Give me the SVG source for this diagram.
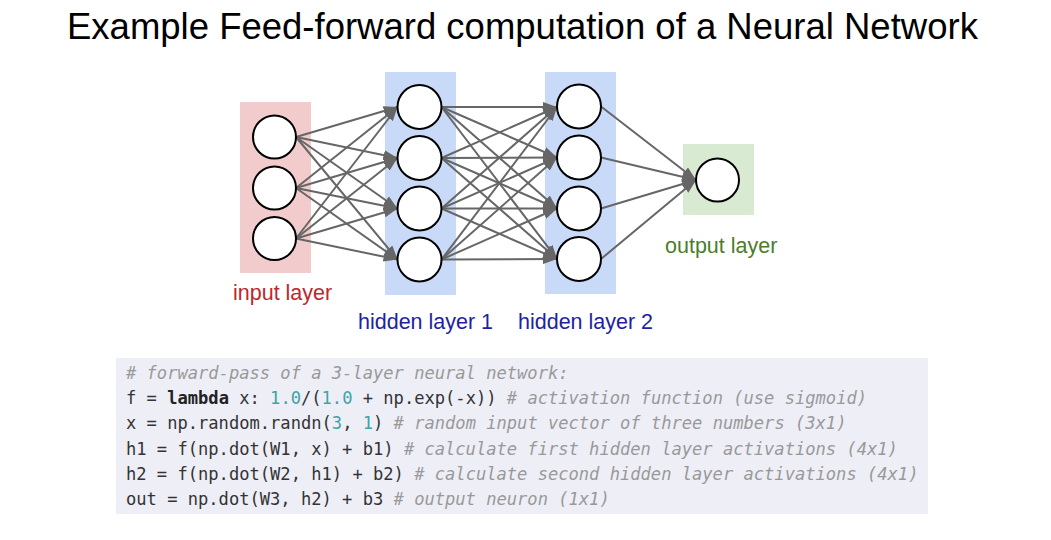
<svg xmlns="http://www.w3.org/2000/svg" width="1051" height="540" viewBox="0 0 1051 540">
<style>
.title{font-family:"Liberation Sans",Arial,sans-serif;font-size:36.5px;fill:#000}
.lbl{font-family:"Liberation Sans",Arial,sans-serif;font-size:21.5px}
.neuron{fill:#fff;stroke:#000;stroke-width:2}
.conn line{stroke:#666;stroke-width:2;marker-end:url(#arr)}
.code{font-family:"DejaVu Sans Mono","Liberation Mono",monospace;font-size:17.1px;fill:#333}
.cm{fill:#999;font-style:italic}
.num{fill:#3aa5a5}
.kw{font-weight:bold;fill:#222}
</style>
<defs>
<marker id="arr" markerUnits="userSpaceOnUse" markerWidth="14" markerHeight="10" refX="14" refY="5" orient="auto">
<path d="M0,0 L14,5 L0,10 z" fill="#666"/>
</marker>
</defs>
<rect width="1051" height="540" fill="#fff"/>
<text class="title" x="67" y="39">Example Feed-forward computation of a Neural Network</text>

<g id="layer-input"><rect x="240" y="102" width="71" height="171" fill="#f2cccc"/></g>
<g id="layer-hidden1"><rect x="385" y="72" width="71" height="223" fill="#c9daf8"/></g>
<g id="layer-hidden2"><rect x="545" y="72" width="71" height="222" fill="#c9daf8"/></g>
<g id="layer-output"><rect x="683" y="144" width="71" height="71" fill="#d9ead3"/></g>

<g id="connectors" class="conn">
<line x1="296" y1="137" x2="397.5" y2="107"/>
<line x1="296" y1="137" x2="397.5" y2="158"/>
<line x1="296" y1="137" x2="397.5" y2="208.5"/>
<line x1="296" y1="137" x2="397.5" y2="259.5"/>
<line x1="296" y1="188" x2="397.5" y2="107"/>
<line x1="296" y1="188" x2="397.5" y2="158"/>
<line x1="296" y1="188" x2="397.5" y2="208.5"/>
<line x1="296" y1="188" x2="397.5" y2="259.5"/>
<line x1="296" y1="238.5" x2="397.5" y2="107"/>
<line x1="296" y1="238.5" x2="397.5" y2="158"/>
<line x1="296" y1="238.5" x2="397.5" y2="208.5"/>
<line x1="296" y1="238.5" x2="397.5" y2="259.5"/>

<line x1="441.5" y1="107" x2="557" y2="107"/>
<line x1="441.5" y1="107" x2="557" y2="157.5"/>
<line x1="441.5" y1="107" x2="557" y2="208.5"/>
<line x1="441.5" y1="107" x2="557" y2="259"/>
<line x1="441.5" y1="158" x2="557" y2="107"/>
<line x1="441.5" y1="158" x2="557" y2="157.5"/>
<line x1="441.5" y1="158" x2="557" y2="208.5"/>
<line x1="441.5" y1="158" x2="557" y2="259"/>
<line x1="441.5" y1="208.5" x2="557" y2="107"/>
<line x1="441.5" y1="208.5" x2="557" y2="157.5"/>
<line x1="441.5" y1="208.5" x2="557" y2="208.5"/>
<line x1="441.5" y1="208.5" x2="557" y2="259"/>
<line x1="441.5" y1="259.5" x2="557" y2="107"/>
<line x1="441.5" y1="259.5" x2="557" y2="157.5"/>
<line x1="441.5" y1="259.5" x2="557" y2="208.5"/>
<line x1="441.5" y1="259.5" x2="557" y2="259"/>

<line x1="601" y1="106.5" x2="696" y2="180"/>
<line x1="601" y1="157.5" x2="696" y2="180"/>
<line x1="601" y1="208.5" x2="696" y2="180"/>
<line x1="601" y1="259" x2="696" y2="180"/>
</g>

<g id="input-neurons">
<circle class="neuron" cx="274.5" cy="137" r="21.5"/>
<circle class="neuron" cx="274.5" cy="188" r="21.5"/>
<circle class="neuron" cx="274.5" cy="238.5" r="21.5"/>
</g>
<g id="hidden1-neurons">
<circle class="neuron" cx="419.5" cy="107" r="22"/>
<circle class="neuron" cx="419.5" cy="158" r="22"/>
<circle class="neuron" cx="419.5" cy="208.5" r="22"/>
<circle class="neuron" cx="419.5" cy="259.5" r="22"/>
</g>
<g id="hidden2-neurons">
<circle class="neuron" cx="579" cy="106.5" r="22"/>
<circle class="neuron" cx="579" cy="157.5" r="22"/>
<circle class="neuron" cx="579" cy="208.5" r="22"/>
<circle class="neuron" cx="579" cy="259" r="22"/>
</g>
<g id="output-neuron">
<circle class="neuron" cx="717.5" cy="180" r="21.5"/>
</g>

<g id="labels">
<text class="lbl" x="233" y="300" fill="#c0262d">input layer</text>
<text class="lbl" x="358" y="329" fill="#1f1fa3">hidden layer 1</text>
<text class="lbl" x="518" y="329" fill="#1f1fa3">hidden layer 2</text>
<text class="lbl" x="665" y="253" fill="#4b7d2b">output layer</text>
</g>

<g id="code">
<rect x="116" y="358" width="812" height="156" fill="#eeeef7"/>
<text class="code" x="126" y="379" xml:space="preserve"><tspan class="cm"># forward-pass of a 3-layer neural network:</tspan></text>
<text class="code" x="126" y="404.2" xml:space="preserve">f = <tspan class="kw">lambda</tspan> x: <tspan class="num">1.0</tspan>/(<tspan class="num">1.0</tspan> + np.exp(-x)) <tspan class="cm"># activation function (use sigmoid)</tspan></text>
<text class="code" x="126" y="429.4" xml:space="preserve">x = np.random.randn(<tspan class="num">3</tspan>, <tspan class="num">1</tspan>) <tspan class="cm"># random input vector of three numbers (3x1)</tspan></text>
<text class="code" x="126" y="454.6" xml:space="preserve">h1 = f(np.dot(W1, x) + b1) <tspan class="cm"># calculate first hidden layer activations (4x1)</tspan></text>
<text class="code" x="126" y="479.8" xml:space="preserve">h2 = f(np.dot(W2, h1) + b2) <tspan class="cm"># calculate second hidden layer activations (4x1)</tspan></text>
<text class="code" x="126" y="505" xml:space="preserve">out = np.dot(W3, h2) + b3 <tspan class="cm"># output neuron (1x1)</tspan></text>
</g>
</svg>
